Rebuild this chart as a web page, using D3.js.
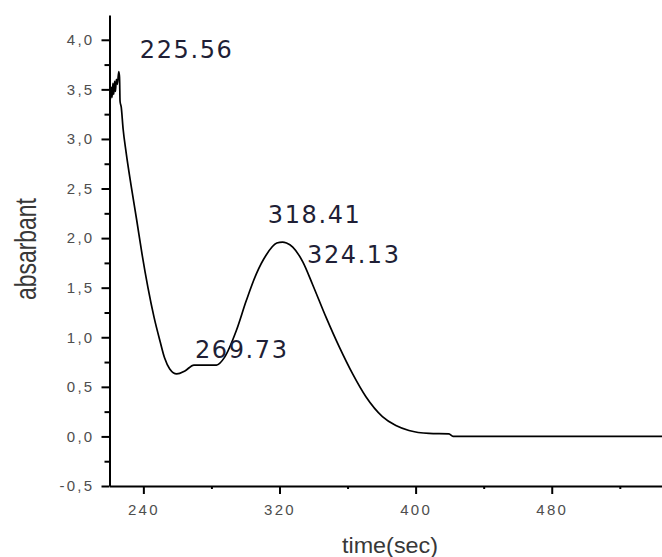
<!DOCTYPE html>
<html>
<head>
<meta charset="utf-8">
<script src="https://cdn.jsdelivr.net/npm/d3@7"></script>
<style>
  html, body { margin: 0; padding: 0; background: #fff; }
  svg { display: block; }
</style>
</head>
<body>
<svg id="chart" width="662" height="557"></svg>
<script>
// Absorbance trace over time
const timeSec = [
  220.6, 221.1, 221.6, 222.1, 222.6, 223.1, 223.6, 224.1, 224.7, 225.56,
  226.0, 226.3, 227.0, 228.1, 229.9, 232.8, 236.1, 239.2, 242.7, 246.3,
  249.8, 252.5, 255.5, 259.6, 264.4, 269.73, 283.0, 287.8, 294.7, 300.5,
  306.4, 312.2, 318.41, 321.8, 324.13, 327.8, 333.7, 339.5, 347.4, 355.2,
  363.0, 370.8, 380.5, 388.4, 396.1, 407.9, 419.6, 422.0, 549.5
];
const absorbance = [
  3.40, 3.52, 3.42, 3.56, 3.45, 3.58, 3.48, 3.60, 3.55, 3.68,
  3.62, 3.38, 3.32, 3.10, 2.86, 2.53, 2.18, 1.84, 1.50, 1.20,
  0.96, 0.79, 0.68, 0.63, 0.66, 0.72, 0.72, 0.80, 1.07, 1.37,
  1.64, 1.83, 1.95, 1.96, 1.95, 1.91, 1.76, 1.53, 1.20, 0.90,
  0.63, 0.40, 0.20, 0.11, 0.06, 0.03, 0.025, 0.0, 0.0
];

// Annotated peak times
const peakTimes = [225.56, 269.73, 318.41, 324.13];

// Axis ticks
const xMajorTicks = [240, 320, 400, 480];
const xMinorTicks = [280, 360, 440, 520];
const yMajorTicks = [-0.5, 0, 0.5, 1.0, 1.5, 2.0, 2.5, 3.0, 3.5, 4.0];
const yMinorTicks = [-0.25, 0.25, 0.75, 1.25, 1.75, 2.25, 2.75, 3.25, 3.75];

// Pixel offsets of the peak annotations from their point on the curve
const peakLabelOffsets = [[21, -14], [1, -7], [-9, -20], [20.5, 20]];

const svg = d3.select("#chart");

const x = d3.scaleLinear().domain([220.1, 549.5]).range([109.5, 670]);
const y = d3.scaleLinear().domain([-0.5, 4.25]).range([486, 15]);

const fmt = v => d3.format(".1f")(v).replace(".", ",").replace("\u2212", "-");

// Minor ticks
svg.append("g")
  .attr("transform", "translate(0,486)")
  .call(d3.axisBottom(x).tickValues(xMinorTicks).tickSize(3).tickFormat("").tickSizeOuter(0))
  .call(g => g.select(".domain").remove())
  .call(g => g.selectAll("line").attr("stroke", "#000").attr("stroke-width", 2));

svg.append("g")
  .attr("transform", "translate(109.5,0)")
  .call(d3.axisLeft(y).tickValues(yMinorTicks).tickSize(5).tickFormat("").tickSizeOuter(0))
  .call(g => g.select(".domain").remove())
  .call(g => g.selectAll("line").attr("stroke", "#000").attr("stroke-width", 2));

// Major x axis
const xAxis = svg.append("g")
  .attr("transform", "translate(0,486)")
  .call(d3.axisBottom(x).tickValues(xMajorTicks).tickSize(8).tickPadding(10).tickSizeOuter(0)
    .tickFormat(d3.format("d")));
xAxis.select(".domain").attr("stroke", "#000").attr("stroke-width", 2);
xAxis.selectAll("line").attr("stroke", "#000").attr("stroke-width", 2);
xAxis.selectAll("text")
  .attr("fill", "#4e4e4e")
  .style("font-family", "'Liberation Sans', Arial, sans-serif")
  .style("font-size", "15px")
  .style("letter-spacing", "2.3px");

// Major y axis
const yAxis = svg.append("g")
  .attr("transform", "translate(109.5,0)")
  .call(d3.axisLeft(y).tickValues(yMajorTicks).tickSize(8).tickPadding(7).tickSizeOuter(0)
    .tickFormat(fmt));
yAxis.select(".domain").attr("stroke", "#000").attr("stroke-width", 2);
yAxis.selectAll("line").attr("stroke", "#000").attr("stroke-width", 2);
yAxis.selectAll("text")
  .attr("fill", "#4e4e4e")
  .style("font-family", "'Liberation Sans', Arial, sans-serif")
  .style("font-size", "15px")
  .style("letter-spacing", "2.3px");

// Axis titles
svg.append("text")
  .attr("x", 390).attr("y", 553)
  .attr("text-anchor", "middle")
  .attr("textLength", 96).attr("lengthAdjust", "spacingAndGlyphs")
  .attr("fill", "#383838")
  .style("font-family", "'Liberation Sans', Arial, sans-serif")
  .style("font-size", "22px")
  .text("time(sec)");

svg.append("text")
  .attr("transform", "translate(36,249) rotate(-90)")
  .attr("text-anchor", "middle")
  .attr("textLength", 102).attr("lengthAdjust", "spacingAndGlyphs")
  .attr("fill", "#383838")
  .style("font-family", "'Liberation Sans', Arial, sans-serif")
  .style("font-size", "29px")
  .text("absarbant");

// Curve
const points = timeSec.map((t, i) => [t, absorbance[i]]);
const line = d3.line()
  .x(d => x(d[0]))
  .y(d => y(d[1]))
  .curve(d3.curveMonotoneX);

svg.append("path")
  .datum(points)
  .attr("fill", "none")
  .attr("stroke", "#000")
  .attr("stroke-width", 1.7)
  .attr("stroke-linejoin", "round")
  .attr("d", line);

// Peak annotations, placed relative to their point on the curve
svg.append("g")
  .selectAll("text")
  .data(peakTimes)
  .join("text")
  .attr("x", (t, i) => x(t) + peakLabelOffsets[i][0])
  .attr("y", (t, i) => {
    const v = absorbance[timeSec.indexOf(t)];
    return y(v) + peakLabelOffsets[i][1];
  })
  .attr("textLength", 92).attr("lengthAdjust", "spacing")
  .attr("fill", "#1f1f36")
  .style("font-family", "'DejaVu Sans', Verdana, sans-serif")
  .style("font-size", "24px")
  .text(t => d3.format(".2f")(t));
</script>
</body>
</html>
